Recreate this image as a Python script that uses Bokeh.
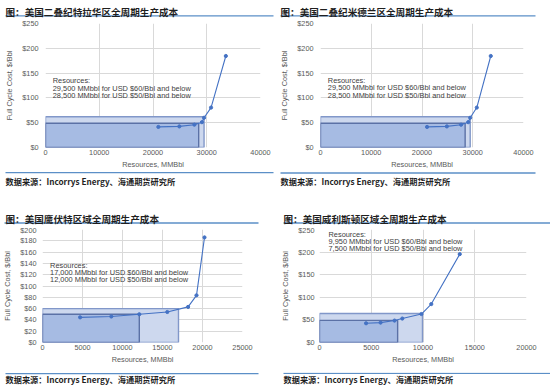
from bokeh.plotting import figure
from bokeh.layouts import column, row
from bokeh.models import Range1d, FixedTicker, NumeralTickFormatter
from bokeh.core.properties import value
from bokeh.embed import file_html
from bokeh.resources import INLINE

# ---------------- data ----------------
titles = ["图：美国二叠纪特拉华区全周期生产成本",
          "图：美国二叠纪米德兰区全周期生产成本",
          "图：美国鹰伏特区域全周期生产成本",
          "图：美国威利斯顿区域全周期生产成本"]
source_note = "数据来源：Incorrys Energy、海通期货研究所"
x_axis_title = "Resources, MMBbl"
y_axis_title = "Full Cycle Cost, $/Bbl"

delaware_res = [21000, 24900, 27700, 29100, 29500, 30800, 33550]
delaware_cost = [41.5, 42.5, 46, 51, 60, 80.5, 184.5]
delaware_box60 = [29500, 62]   # resources, cost
delaware_box50 = [28500, 49]
delaware_text = ["Resources:",
                 "29,500 MMbbl for USD $60/Bbl and below",
                 "28,500 MMbbl for USD $50/Bbl and below"]

midland_res = [21000, 24900, 27700, 29100, 29500, 30800, 33550]
midland_cost = [41.5, 42.5, 46, 51, 60, 80.5, 184.5]
midland_box60 = [29500, 62]
midland_box50 = [28500, 49]
midland_text = ["Resources:",
                "29,500 MMbbl for USD $60/Bbl and below",
                "28,500 MMbbl for USD $50/Bbl and below"]

eagle_res = [4700, 8600, 12100, 15600, 18200, 19250, 20250]
eagle_cost = [44.5, 46, 50, 54, 63, 83.5, 186]
eagle_box60 = [17000, 60]
eagle_box50 = [12100, 50]
eagle_text = ["Resources:",
              "17,000 MMbbl for USD $60/Bbl and below",
              "12,000 MMbbl for USD $50/Bbl and below"]

williston_res = [4500, 5900, 7250, 8000, 9850, 10800, 13550]
williston_cost = [42.5, 44, 48.5, 53, 63, 85, 195.5]
williston_box60 = [9950, 64]
williston_box50 = [7550, 49]
williston_text = ["Resources:",
                  "9,950 MMbbl for USD $60/Bbl and below",
                  "7,500 MMbbl for USD $50/Bbl and below"]

x_ticks_40k = [0, 10000, 20000, 30000, 40000]
x_ticks_25k = [0, 5000, 10000, 15000, 20000, 25000]
x_ticks_20k = [0, 5000, 10000, 15000, 20000]
y_ticks_250 = [0, 50, 100, 150, 200, 250]
y_ticks_200 = [0, 20, 40, 60, 80, 100, 120, 140, 160, 180, 200]

# ---------------- styles ----------------
W = 275
LATIN = "Liberation Sans"
CJK = "Noto Sans CJK SC"
RULE = "#5B8FC7"
TXT_DARK = "#1F1F1F"
TICK_C = "#595959"
GRID_C = "#D9D9D9"
LINE_C = "#4472C4"
SMALL = "7.3px"


def band(height, text, text_x, text_y, line_x0, line_x1, line_y, size):
    p = figure(width=W, height=height, x_range=Range1d(0, W), y_range=Range1d(height, 0),
               x_axis_type=None, y_axis_type=None, toolbar_location=None,
               output_backend="svg", min_border=0)
    p.min_border_left = 0
    p.min_border_right = 0
    p.min_border_top = 0
    p.min_border_bottom = 0
    p.outline_line_color = None
    p.segment(x0=[line_x0], y0=[line_y], x1=[line_x1], y1=[line_y],
              line_color=RULE, line_width=1.3)
    p.text(x=[text_x], y=[text_y], text=[text], text_font=value(CJK),
           text_font_style="bold", text_font_size=size, text_color=TXT_DARK,
           text_baseline="middle", text_align="left")
    return p


def chart(height, xs, ys, box60, box50, notes, xmax, xticks, ymax, yticks,
          bl, br, bt, bb, ylab_standoff, note_x, note_y, note_step):
    p = figure(width=W, height=height, x_range=Range1d(0, xmax), y_range=Range1d(0, ymax),
               toolbar_location=None, output_backend="svg")
    p.min_border_left = bl
    p.min_border_right = br
    p.min_border_top = bt
    p.min_border_bottom = bb
    p.outline_line_color = None
    p.background_fill_color = "white"
    p.border_fill_color = "white"

    p.quad(left=[0], right=[box60[0]], bottom=[0], top=[box60[1]],
           fill_color="#CDD8EE", line_color="#8197C9", line_width=1.4)
    p.quad(left=[0], right=[box50[0]], bottom=[0], top=[box50[1]],
           fill_color="#A6BBE3", line_color="#5B71A6", line_width=1.4)
    p.line(xs, ys, line_color=LINE_C, line_width=1.1)
    p.scatter(xs, ys, size=3.2, marker="circle", fill_color=LINE_C, line_color=LINE_C)

    p.text(x=[note_x] * len(notes), y=[note_y - i * note_step for i in range(len(notes))],
           text=notes, text_font=value(LATIN), text_font_size="7.4px",
           text_color="#404040", text_baseline="middle")

    p.xaxis.ticker = FixedTicker(ticks=xticks)
    p.yaxis.ticker = FixedTicker(ticks=yticks)
    p.xaxis.formatter = NumeralTickFormatter(format="0")
    p.yaxis.formatter = NumeralTickFormatter(format="$0")
    for ax in (p.xaxis[0], p.yaxis[0]):
        ax.axis_line_color = None
        ax.major_tick_line_color = None
        ax.minor_tick_line_color = None
        ax.major_tick_out = 0
        ax.major_tick_in = 0
        ax.major_label_text_font = LATIN
        ax.major_label_text_font_size = SMALL
        ax.major_label_text_color = TICK_C
        ax.axis_label_text_font = LATIN
        ax.axis_label_text_font_size = SMALL
        ax.axis_label_text_font_style = "normal"
        ax.axis_label_text_color = TICK_C
    p.xaxis.axis_label = x_axis_title
    p.yaxis.axis_label = y_axis_title
    p.xaxis.major_label_standoff = 2
    p.xaxis.axis_label_standoff = 2
    p.yaxis.major_label_standoff = ylab_standoff
    p.yaxis.axis_label_standoff = 5
    p.xgrid.grid_line_color = GRID_C
    p.ygrid.grid_line_color = GRID_C
    return p


# header / chart / footer rows
head_top = row(band(18, titles[0], 5, 11, 5, 273, 15.3, "9.6px"),
               band(18, titles[1], 5, 11, 5, 260, 15.3, "9.6px"))
charts_top = row(
    chart(153, delaware_res, delaware_cost, delaware_box60, delaware_box50, delaware_text,
          40000, x_ticks_40k, 250, y_ticks_250, 45, 15, 3, 21, 7, 1350, 135.5, 15.8),
    chart(153, midland_res, midland_cost, midland_box60, midland_box50, midland_text,
          40000, x_ticks_40k, 250, y_ticks_250, 45, 27, 5, 21, 7, 1450, 136, 15.8))
foot_top = row(band(22, source_note, 5, 9, 5, 273, 1.2, "8.2px"),
               band(22, source_note, 5, 9, 5, 260, 1.5, "8.2px"))

head_bot = row(band(32, titles[2], 5, 25, 4, 258, 29.5, "9.6px"),
               band(32, titles[3], 8, 25, 8, 275, 29.5, "9.6px"))
charts_bot = row(
    chart(147, eagle_res, eagle_cost, eagle_box60, eagle_box50, eagle_text,
          25000, x_ticks_25k, 200, y_ticks_200, 40, 33, 3, 21, 6, 950, 137, 12.5),
    chart(147, williston_res, williston_cost, williston_box60, williston_box50, williston_text,
          20000, x_ticks_20k, 250, y_ticks_250, 44, 24, 4, 30, 5, 870, 239.5, 15.8))
foot_bot = row(band(14, source_note, 5, 6.2, 5, 258, 1.2, "8.2px"),
               band(14, source_note, 8, 6.2, 8, 275, 0.8, "8.2px"))

layout = column(head_top, charts_top, foot_top, head_bot, charts_bot, foot_bot)
open("out.html", "w").write(file_html(layout, INLINE))
